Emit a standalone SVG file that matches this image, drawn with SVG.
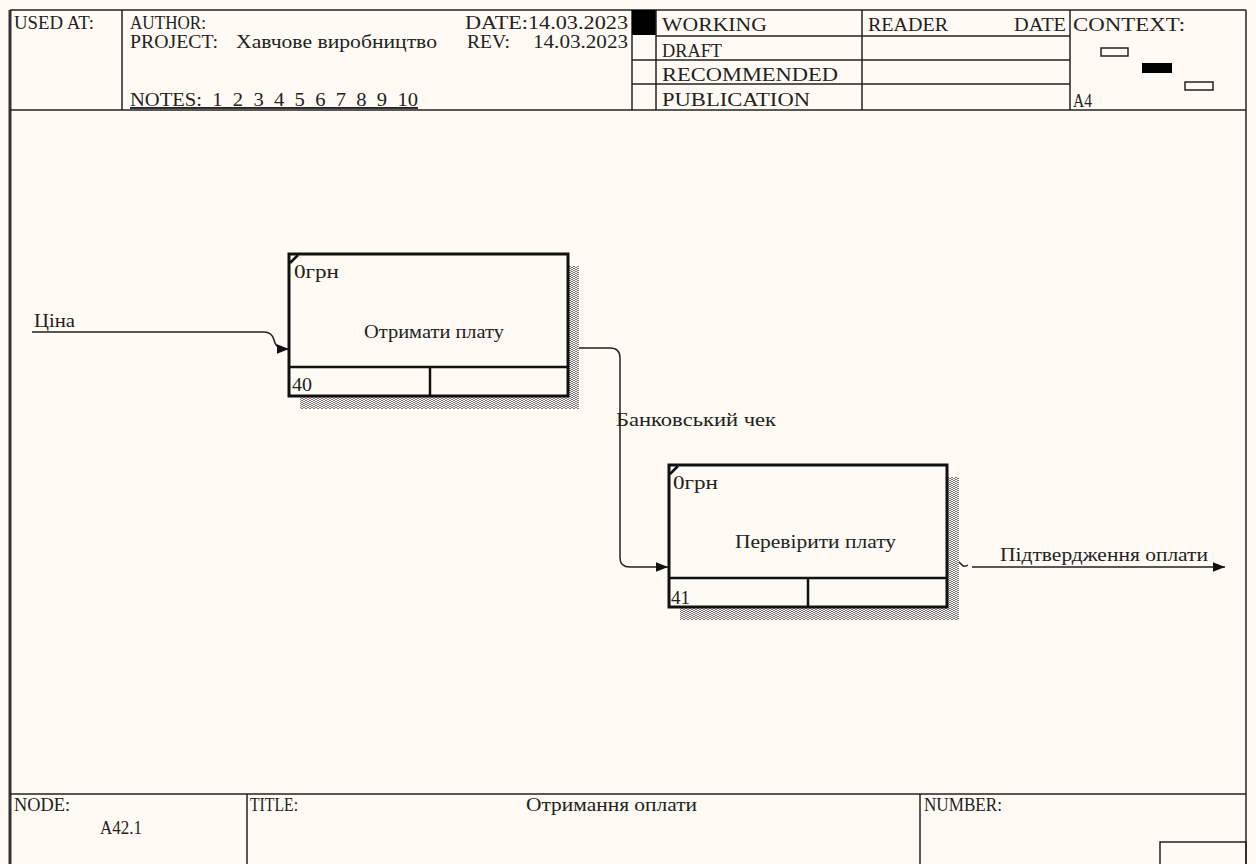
<svg xmlns="http://www.w3.org/2000/svg" width="1256" height="864" viewBox="0 0 1256 864" font-family="'Liberation Serif', 'Times New Roman', 'DejaVu Serif', serif">
<style>
  text { font-family: "Liberation Serif", "Times New Roman", "DejaVu Serif", serif; font-size: 19px; fill: #222; }
  .ln { stroke: #222; stroke-width: 1.5; fill: none; }
  .box { fill: #fffbf4; stroke: #111; stroke-width: 3; }
  .boxln { stroke: #111; stroke-width: 2.5; }
  .conn { stroke: #222; stroke-width: 1.5; fill: none; }
</style>
<defs>
  <pattern id="hatch" width="4" height="4" patternUnits="userSpaceOnUse">
    <rect width="4" height="4" fill="#fffbf4"/>
    <path d="M0,4 L2,2 L4,4 M0,2 L2,0 L4,2" stroke="#777" stroke-width="1" fill="none"/>
  </pattern>
  <marker id="arr" viewBox="0 0 10 10" refX="10" refY="5" markerWidth="12" markerHeight="12" markerUnits="userSpaceOnUse" orient="auto">
    <path d="M0,1 L10,5 L0,9 Z" fill="#111"/>
  </marker>
</defs>
<rect x="0" y="0" width="1256" height="864" fill="#fffbf4"/>

<g id="frame">
  <line x1="10" y1="10" x2="10" y2="864" stroke="#333" stroke-width="3"/>
  <line x1="1246" y1="10" x2="1246" y2="864" class="ln"/>
  <line x1="10" y1="10" x2="1246" y2="10" class="ln"/>
  <line x1="10" y1="110" x2="1246" y2="110" class="ln"/>
  <line x1="122" y1="10" x2="122" y2="110" class="ln"/>
  <line x1="632" y1="10" x2="632" y2="110" class="ln"/>
  <rect x="632" y="10" width="24" height="25" fill="#000"/>
  <line x1="656" y1="10" x2="656" y2="110" class="ln"/>
  <line x1="862" y1="10" x2="862" y2="110" class="ln"/>
  <line x1="1070" y1="10" x2="1070" y2="110" class="ln"/>
  <line x1="656" y1="36" x2="1070" y2="36" class="ln"/>
  <line x1="632" y1="60" x2="1070" y2="60" class="ln"/>
  <line x1="632" y1="84" x2="1070" y2="84" class="ln"/>
  <rect x="1101" y="48" width="27" height="8" fill="none" stroke="#222" stroke-width="1.5"/>
  <rect x="1142" y="63" width="30" height="10" fill="#000"/>
  <rect x="1185" y="82" width="28" height="8" fill="none" stroke="#222" stroke-width="1.5"/>
  <text x="14" y="29" textLength="80" lengthAdjust="spacingAndGlyphs">USED AT:</text>
  <text x="130" y="29" textLength="76" lengthAdjust="spacingAndGlyphs">AUTHOR:</text>
  <text x="130" y="48" textLength="88" lengthAdjust="spacingAndGlyphs">PROJECT:</text>
  <text x="236" y="48" textLength="201" lengthAdjust="spacingAndGlyphs">Хавчове виробництво</text>
  <text x="130" y="106" text-decoration="underline" textLength="288" lengthAdjust="spacingAndGlyphs">NOTES:&#160;&#160;1&#160;&#160;2&#160;&#160;3&#160;&#160;4&#160;&#160;5&#160;&#160;6&#160;&#160;7&#160;&#160;8&#160;&#160;9&#160;&#160;10</text>
  <text x="465" y="29" textLength="163" lengthAdjust="spacingAndGlyphs">DATE:14.03.2023</text>
  <text x="467" y="48" textLength="43" lengthAdjust="spacingAndGlyphs">REV:</text>
  <text x="533" y="48" textLength="95" lengthAdjust="spacingAndGlyphs">14.03.2023</text>
  <text x="662" y="31" textLength="105" lengthAdjust="spacingAndGlyphs">WORKING</text>
  <text x="662" y="57" textLength="60" lengthAdjust="spacingAndGlyphs">DRAFT</text>
  <text x="662" y="81" textLength="176" lengthAdjust="spacingAndGlyphs">RECOMMENDED</text>
  <text x="662" y="106" textLength="148" lengthAdjust="spacingAndGlyphs">PUBLICATION</text>
  <text x="868" y="31" textLength="80" lengthAdjust="spacingAndGlyphs">READER</text>
  <text x="1014" y="31" textLength="52" lengthAdjust="spacingAndGlyphs">DATE</text>
  <text x="1073" y="31" textLength="112" lengthAdjust="spacingAndGlyphs">CONTEXT:</text>
  <text x="1073" y="107" textLength="19" lengthAdjust="spacingAndGlyphs">A4</text>
  <line x1="10" y1="794" x2="1246" y2="794" class="ln"/>
  <line x1="247" y1="794" x2="247" y2="864" class="ln"/>
  <line x1="920" y1="794" x2="920" y2="864" class="ln"/>
  <rect x="1160" y="842" width="86" height="24" fill="none" stroke="#222" stroke-width="1.5"/>
  <text x="14" y="811" textLength="56" lengthAdjust="spacingAndGlyphs">NODE:</text>
  <text x="100" y="834" textLength="42" lengthAdjust="spacingAndGlyphs">A42.1</text>
  <text x="250" y="811" textLength="48" lengthAdjust="spacingAndGlyphs">TITLE:</text>
  <text x="526" y="811" textLength="171" lengthAdjust="spacingAndGlyphs">Отримання оплати</text>
  <text x="924" y="811" textLength="78" lengthAdjust="spacingAndGlyphs">NUMBER:</text>
</g>

<g id="connectors">
  <path class="conn" d="M32,332 L264,332 Q272,332 274,340 Q276,349 284,349 L289,349" marker-end="url(#arr)"/>
  <text x="34" y="327" textLength="41" lengthAdjust="spacingAndGlyphs">Ціна</text>
  <path class="conn" d="M568,348 L610,348 Q620,348 620,358 L620,558 Q620,567 630,567 L668,567" marker-end="url(#arr)"/>
  <text x="616" y="426" textLength="160" lengthAdjust="spacingAndGlyphs">Банковський чек</text>
  <path class="conn" d="M947,562 L954,562 Q958,560 961,564 Q964,568 968,565"/>
  <path class="conn" d="M972,567 L1225,567" marker-end="url(#arr)"/>
  <text x="1000" y="561" textLength="208" lengthAdjust="spacingAndGlyphs">Підтвердження оплати</text>
</g>

<g id="node-A40">
  <rect x="300" y="266" width="279" height="143" fill="url(#hatch)"/>
  <rect x="289" y="254" width="279" height="142" class="box"/>
  <line x1="289" y1="367" x2="568" y2="367" class="boxln"/>
  <line x1="430" y1="367" x2="430" y2="396" class="boxln"/>
  <line x1="290" y1="263" x2="298" y2="255" class="boxln" stroke-width="2"/>
  <text x="294" y="278" textLength="45" lengthAdjust="spacingAndGlyphs">0грн</text>
  <text x="364" y="338" textLength="140" lengthAdjust="spacingAndGlyphs">Отримати плату</text>
  <text x="292" y="391" textLength="20" lengthAdjust="spacingAndGlyphs">40</text>
</g>

<g id="node-A41">
  <rect x="680" y="477" width="279" height="143" fill="url(#hatch)"/>
  <rect x="669" y="465" width="278" height="142" class="box"/>
  <line x1="669" y1="578" x2="947" y2="578" class="boxln"/>
  <line x1="808" y1="578" x2="808" y2="607" class="boxln"/>
  <line x1="670" y1="474" x2="678" y2="466" class="boxln" stroke-width="2"/>
  <text x="673" y="489" textLength="45" lengthAdjust="spacingAndGlyphs">0грн</text>
  <text x="735" y="548" textLength="161" lengthAdjust="spacingAndGlyphs">Перевірити плату</text>
  <text x="671" y="604" textLength="19" lengthAdjust="spacingAndGlyphs">41</text>
</g>
</svg>
